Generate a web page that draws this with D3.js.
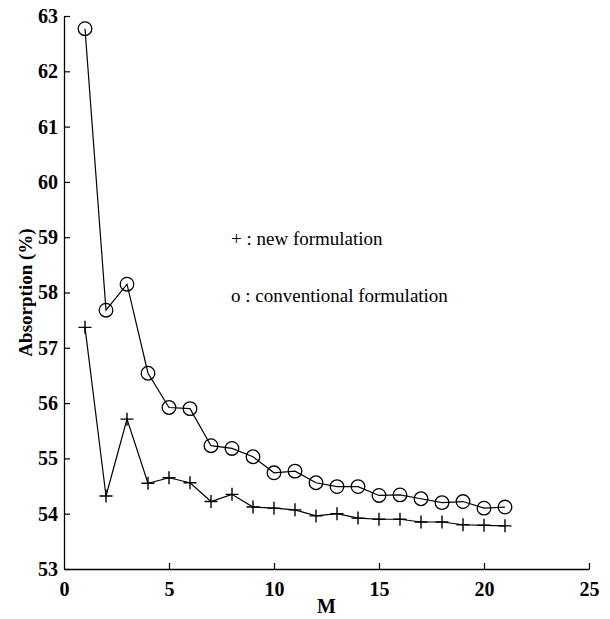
<!DOCTYPE html>
<html><head><meta charset="utf-8">
<script src="https://cdn.jsdelivr.net/npm/d3@7"></script>
<style>body{margin:0;background:#fff}svg{display:block}svg text{font-family:"Liberation Serif","Times New Roman","DejaVu Serif",serif !important}</style>
</head><body>
<script>
const M = [1,2,3,4,5,6,7,8,9,10,11,12,13,14,15,16,17,18,19,20,21];
const conventional = [62.77,57.68,58.15,56.54,55.92,55.90,55.23,55.18,55.03,54.74,54.77,54.56,54.49,54.49,54.33,54.34,54.27,54.20,54.22,54.10,54.12];
const newForm = [57.37,54.32,55.71,54.55,54.65,54.56,54.22,54.35,54.12,54.10,54.07,53.96,54.00,53.92,53.90,53.90,53.85,53.85,53.80,53.79,53.78];
const xTicks = [0,5,10,15,20,25];
const yTicks = [53,54,55,56,57,58,59,60,61,62,63];
const legendLabels = ["+ : new formulation", "o : conventional formulation"];

const W=610,H=619;
const svg=d3.select("body").append("svg").attr("width",W).attr("height",H);
const x=d3.scaleLinear().domain([0,25]).range([64,589]);
const y=d3.scaleLinear().domain([53,63]).range([569,16]);

const xa=svg.append("g").attr("transform",`translate(0,${y(53)})`)
  .call(d3.axisBottom(x).tickValues(xTicks).tickSize(-6).tickSizeOuter(0).tickPadding(13).tickFormat(d3.format("d")));
const ya=svg.append("g").attr("transform",`translate(${x(0)},0)`)
  .call(d3.axisLeft(y).tickValues(yTicks).tickSize(-6).tickSizeOuter(0).tickPadding(6).tickFormat(d3.format("d")));
[xa,ya].forEach(a=>{
  a.attr("font-family",null);
  a.select(".domain").attr("stroke","#000").attr("stroke-width",1.3);
  a.selectAll(".tick line").attr("stroke","#000").attr("stroke-width",1.2);
  a.selectAll("text").style("font-weight","bold").style("font-size","20px").attr("fill","#000");
});
xa.selectAll(".tick line").filter(d=>d===0).remove();

const line=d3.line().x((d,i)=>x(M[i])).y(d=>y(d));
svg.append("path").datum(conventional).attr("d",line).attr("fill","none").attr("stroke","#000").attr("stroke-width",1.2);
svg.append("path").datum(newForm).attr("d",line).attr("fill","none").attr("stroke","#000").attr("stroke-width",1.2);

svg.selectAll("circle.c").data(conventional).enter().append("circle")
  .attr("cx",(d,i)=>x(M[i])).attr("cy",d=>y(d)).attr("r",6.8)
  .attr("fill","none").attr("stroke","#000").attr("stroke-width",1.3);
const s=6.5;
svg.selectAll("path.p").data(newForm).enter().append("path")
  .attr("d",(d,i)=>{const cx=x(M[i]),cy=y(d);return `M${cx-s},${cy}H${cx+s}M${cx},${cy-s}V${cy+s}`;})
  .attr("stroke","#000").attr("stroke-width",1.4).attr("fill","none");

svg.append("text").attr("x",x(12.5)).attr("y",613).attr("text-anchor","middle")
  .style("font-weight","bold").style("font-size","20px").text("M");
svg.append("text").attr("transform",`translate(32,${y(58)}) rotate(-90)`).attr("text-anchor","middle")
  .style("font-weight","bold").style("font-size","19px").text("Absorption (%)");

svg.selectAll("text.leg").data(legendLabels).enter().append("text")
  .attr("x",231).attr("y",(d,i)=>245+i*57)
  .style("font-size","19px").attr("fill","#000").text(d=>d);
</script>
</body></html>
